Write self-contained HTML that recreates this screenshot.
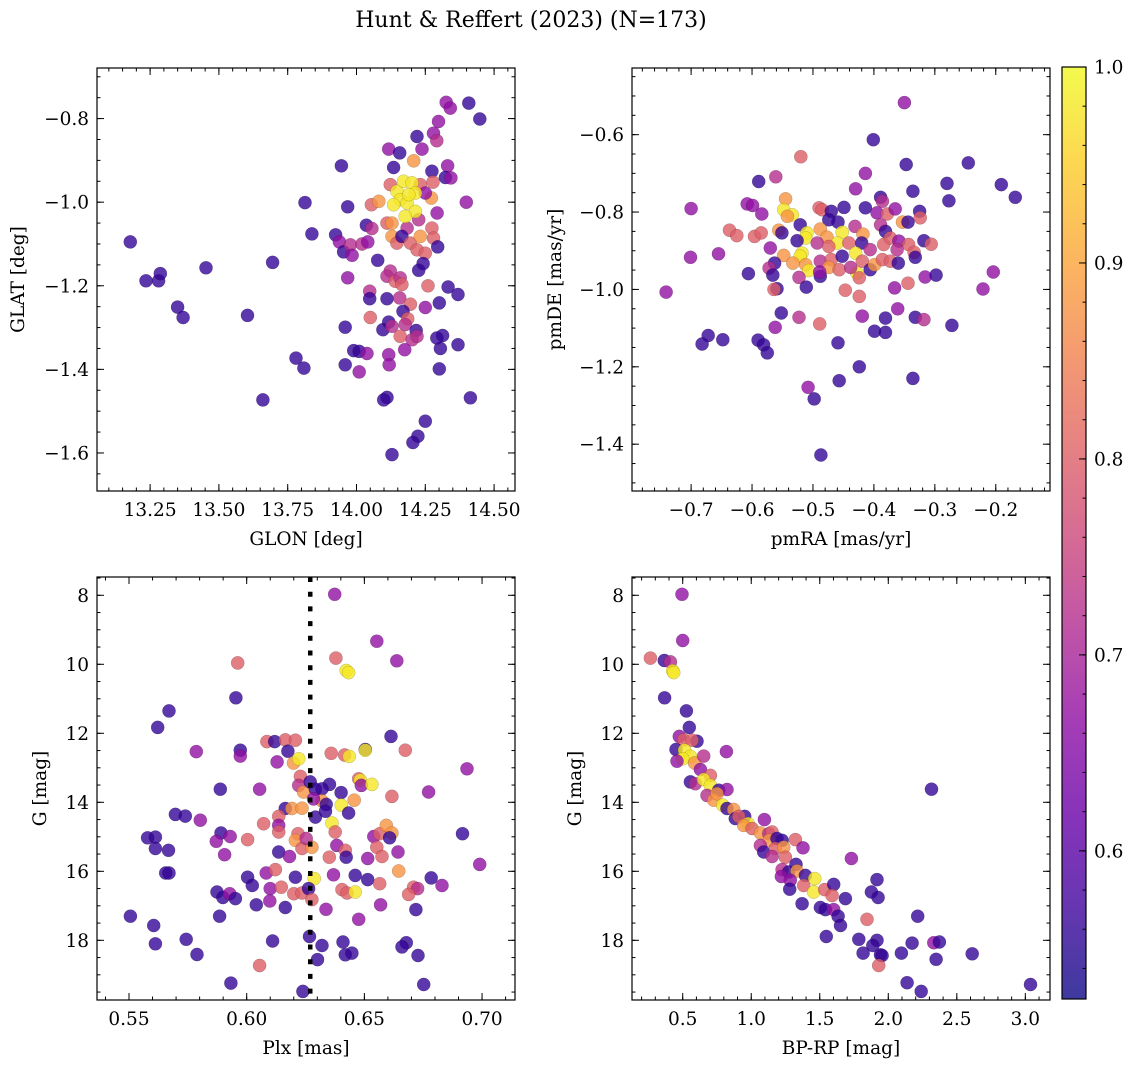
<!DOCTYPE html>
<html><head><meta charset="utf-8"><style>
html,body{margin:0;padding:0;background:#fff;}
svg{display:block;font-family:"DejaVu Serif","Liberation Serif",serif;}
</style></head><body>
<svg id="fig" width="1136" height="1067" viewBox="0 0 1136 1067" xmlns="http://www.w3.org/2000/svg">
<text x="531" y="27" text-anchor="middle" font-size="22">Hunt &amp; Reffert (2023) (N=173)</text>
</svg>
<script>
// ---------- data ----------
const p1Glon=[13.178,13.235,13.281,13.287,13.350,13.370,13.453,13.604,13.695,13.780,13.809,13.660,13.813,13.838,13.945,13.968,13.924,13.938,13.953,13.978,13.984,13.968,14.020,14.041,14.036,14.056,14.077,14.054,14.081,14.117,14.157,14.135,14.220,14.238,14.208,14.280,14.292,14.298,14.326,14.341,14.408,14.448,14.274,14.331,14.323,14.343,14.278,14.272,14.399,14.293,14.123,14.232,14.250,14.226,14.111,14.129,14.129,14.147,14.184,14.165,14.196,14.232,14.220,14.250,14.274,14.280,14.295,14.242,14.226,14.123,14.111,14.141,14.159,14.165,14.260,14.333,14.369,14.048,14.048,14.111,14.157,14.196,14.250,14.301,14.169,14.050,14.186,14.117,14.096,14.129,14.177,14.217,14.159,14.202,14.220,14.175,13.959,13.990,14.010,14.038,14.117,14.119,13.959,14.010,14.313,14.292,14.305,14.369,14.301,14.111,14.099,14.414,14.250,14.223,14.205,14.129,14.147,14.171,14.202,14.214,14.159,14.184,14.135,14.190,14.214,14.177];
const p1Glat=[-1.095,-1.188,-1.188,-1.171,-1.251,-1.276,-1.157,-1.271,-1.144,-1.373,-1.397,-1.473,-1.001,-1.076,-0.913,-1.011,-1.078,-1.095,-1.119,-1.102,-1.127,-1.181,-1.100,-1.095,-1.055,-1.063,-1.139,-1.006,-0.998,-0.873,-0.882,-0.917,-0.843,-0.873,-0.901,-0.835,-0.853,-0.807,-0.761,-0.775,-0.763,-0.801,-0.926,-0.913,-0.941,-0.942,-0.952,-0.990,-1.000,-1.026,-0.958,-0.958,-0.978,-1.042,-1.050,-1.050,-1.082,-1.098,-1.062,-1.082,-1.098,-1.082,-1.114,-1.122,-1.062,-1.086,-1.107,-1.147,-1.163,-1.165,-1.177,-1.189,-1.181,-1.197,-1.200,-1.203,-1.221,-1.213,-1.231,-1.231,-1.229,-1.244,-1.252,-1.241,-1.261,-1.276,-1.279,-1.287,-1.305,-1.297,-1.293,-1.307,-1.321,-1.329,-1.321,-1.353,-1.299,-1.355,-1.357,-1.362,-1.365,-1.389,-1.389,-1.406,-1.319,-1.325,-1.350,-1.341,-1.399,-1.467,-1.473,-1.468,-1.524,-1.560,-1.575,-1.604,-0.974,-0.950,-0.954,-0.978,-0.994,-1.002,-1.006,-0.982,-1.022,-1.034];
const p1Prob=[0.56,0.56,0.56,0.56,0.56,0.56,0.56,0.56,0.56,0.56,0.56,0.56,0.56,0.56,0.56,0.56,0.56,0.67,0.56,0.72,0.67,0.67,0.72,0.67,0.56,0.72,0.56,0.80,0.88,0.67,0.56,0.56,0.56,0.67,0.88,0.67,0.72,0.67,0.67,0.67,0.56,0.56,0.56,0.67,0.56,0.67,0.80,0.88,0.67,0.67,0.80,0.80,0.67,0.72,0.80,0.88,0.88,0.80,0.72,0.56,0.80,0.88,0.80,0.80,0.80,0.80,0.56,0.56,0.56,0.72,0.72,0.80,0.72,0.80,0.80,0.56,0.56,0.72,0.56,0.56,0.72,0.80,0.67,0.56,0.56,0.80,0.80,0.56,0.56,0.72,0.72,0.56,0.80,0.72,0.72,0.67,0.56,0.56,0.56,0.67,0.67,0.67,0.56,0.67,0.56,0.56,0.56,0.56,0.56,0.56,0.56,0.56,0.56,0.56,0.56,0.56,0.98,0.98,0.98,0.98,0.98,0.98,0.98,0.98,0.98,0.98];

const p2Pmra=[-0.350,-0.401,-0.347,-0.245,-0.520,-0.414,-0.430,-0.336,-0.280,-0.277,-0.191,-0.168,-0.589,-0.561,-0.700,-0.608,-0.599,-0.584,-0.545,-0.548,-0.534,-0.542,-0.521,-0.490,-0.485,-0.470,-0.474,-0.459,-0.449,-0.414,-0.389,-0.386,-0.395,-0.378,-0.365,-0.325,-0.324,-0.353,-0.344,-0.389,-0.381,-0.431,-0.637,-0.625,-0.596,-0.585,-0.556,-0.551,-0.510,-0.512,-0.488,-0.477,-0.452,-0.460,-0.526,-0.493,-0.474,-0.441,-0.418,-0.420,-0.406,-0.384,-0.373,-0.359,-0.343,-0.318,-0.306,-0.334,-0.332,-0.362,-0.570,-0.548,-0.518,-0.521,-0.533,-0.512,-0.507,-0.488,-0.470,-0.474,-0.457,-0.452,-0.430,-0.428,-0.438,-0.419,-0.406,-0.399,-0.386,-0.373,-0.360,-0.655,-0.701,-0.741,-0.563,-0.572,-0.566,-0.606,-0.523,-0.488,-0.489,-0.559,-0.564,-0.511,-0.447,-0.424,-0.424,-0.316,-0.298,-0.344,-0.366,-0.204,-0.221,-0.552,-0.562,-0.523,-0.489,-0.419,-0.381,-0.361,-0.332,-0.318,-0.272,-0.399,-0.381,-0.672,-0.682,-0.648,-0.590,-0.581,-0.575,-0.459,-0.424,-0.457,-0.336,-0.508,-0.498,-0.487];
const p2Pmde=[-0.517,-0.613,-0.677,-0.673,-0.657,-0.700,-0.740,-0.746,-0.726,-0.771,-0.729,-0.762,-0.721,-0.709,-0.791,-0.779,-0.783,-0.805,-0.766,-0.794,-0.807,-0.811,-0.833,-0.789,-0.794,-0.798,-0.820,-0.826,-0.788,-0.789,-0.762,-0.772,-0.802,-0.805,-0.792,-0.798,-0.815,-0.826,-0.826,-0.833,-0.850,-0.837,-0.847,-0.861,-0.863,-0.854,-0.847,-0.854,-0.854,-0.867,-0.844,-0.865,-0.852,-0.880,-0.874,-0.880,-0.889,-0.880,-0.857,-0.880,-0.897,-0.884,-0.867,-0.875,-0.884,-0.874,-0.883,-0.904,-0.917,-0.897,-0.893,-0.912,-0.906,-0.914,-0.932,-0.936,-0.951,-0.927,-0.923,-0.943,-0.949,-0.914,-0.906,-0.957,-0.943,-0.927,-0.949,-0.936,-0.923,-0.927,-0.932,-0.908,-0.917,-1.007,-0.932,-0.945,-0.963,-0.959,-0.969,-0.966,-0.955,-0.998,-1.000,-0.994,-1.002,-0.970,-1.018,-0.968,-0.963,-0.984,-0.996,-0.955,-0.999,-1.061,-1.098,-1.072,-1.089,-1.069,-1.074,-1.050,-1.072,-1.078,-1.093,-1.108,-1.111,-1.119,-1.141,-1.130,-1.131,-1.143,-1.164,-1.138,-1.200,-1.236,-1.230,-1.253,-1.283,-1.428];
const p2Prob=[0.67,0.56,0.56,0.56,0.80,0.67,0.67,0.56,0.56,0.56,0.56,0.56,0.56,0.72,0.67,0.67,0.67,0.67,0.88,0.98,0.98,0.88,0.56,0.80,0.80,0.56,0.56,0.56,0.56,0.56,0.56,0.72,0.67,0.80,0.67,0.56,0.80,0.88,0.56,0.72,0.56,0.72,0.80,0.80,0.80,0.80,0.88,0.56,0.98,0.98,0.88,0.88,0.98,0.98,0.56,0.72,0.80,0.80,0.88,0.56,0.72,0.80,0.80,0.67,0.80,0.56,0.80,0.80,0.56,0.72,0.67,0.88,0.98,0.98,0.88,0.88,0.98,0.72,0.80,0.88,0.80,0.56,0.98,0.98,0.72,0.80,0.56,0.88,0.80,0.80,0.56,0.67,0.67,0.67,0.56,0.72,0.56,0.56,0.72,0.56,0.67,0.56,0.80,0.56,0.80,0.80,0.80,0.67,0.56,0.80,0.67,0.67,0.67,0.56,0.67,0.72,0.80,0.67,0.56,0.67,0.56,0.72,0.56,0.56,0.56,0.56,0.56,0.56,0.56,0.56,0.56,0.56,0.56,0.56,0.56,0.67,0.56,0.56];

const p3Plx=[0.6374,0.6553,0.6379,0.6638,0.6423,0.6433,0.5962,0.5954,0.5670,0.5622,0.5786,0.5973,0.5973,0.6086,0.6119,0.6164,0.6207,0.6175,0.6129,0.6199,0.6221,0.6613,0.6674,0.6504,0.6504,0.6359,0.6416,0.6436,0.6936,0.5888,0.6055,0.6228,0.6221,0.6242,0.6270,0.6292,0.6352,0.6320,0.6401,0.6476,0.6483,0.6487,0.6532,0.6617,0.6773,0.6457,0.6402,0.6320,0.6284,0.6338,0.6433,0.6292,0.6335,0.6164,0.6192,0.6235,0.6136,0.6072,0.6136,0.6136,0.6362,0.6376,0.5697,0.5739,0.5803,0.5579,0.5612,0.5612,0.5668,0.5891,0.5871,0.5930,0.5906,0.6004,0.6136,0.6182,0.6218,0.6207,0.6235,0.6277,0.6253,0.6383,0.6419,0.6423,0.6351,0.6514,0.6540,0.6565,0.6593,0.6617,0.6607,0.6553,0.6575,0.6643,0.6917,0.6990,0.6646,0.5656,0.5670,0.6004,0.6024,0.6083,0.6122,0.6207,0.6287,0.6369,0.6461,0.6514,0.6565,0.6784,0.6830,0.6709,0.6726,0.6688,0.5874,0.5899,0.5928,0.5952,0.6100,0.6147,0.6200,0.6235,0.6263,0.6277,0.6405,0.6426,0.6461,0.6041,0.6098,0.6164,0.6337,0.6569,0.6719,0.5506,0.5605,0.5612,0.5885,0.6476,0.5743,0.5789,0.6110,0.6267,0.6320,0.6301,0.6409,0.6419,0.6447,0.6678,0.6660,0.6728,0.6055,0.5933,0.6239,0.6752];
const p3G=[7.97,9.33,9.82,9.90,10.18,10.24,9.96,10.97,11.35,11.83,12.53,12.49,12.66,12.24,12.24,12.19,12.20,12.52,12.83,12.86,12.74,12.09,12.49,12.47,12.49,12.58,12.63,12.67,13.03,13.62,13.62,13.25,13.51,13.70,13.41,13.62,13.48,13.61,13.72,13.32,13.36,13.51,13.48,13.83,13.70,13.94,14.08,13.96,13.90,14.06,14.31,14.43,14.26,14.18,14.18,14.17,14.41,14.62,14.67,14.86,14.60,14.86,14.35,14.40,14.52,15.03,15.01,15.34,15.39,14.89,15.13,14.99,15.52,15.08,15.44,15.57,14.91,15.10,15.34,15.30,15.05,15.25,15.39,15.59,15.59,15.63,14.99,14.91,14.67,14.89,15.03,15.30,15.57,15.44,14.91,15.80,15.99,16.05,16.05,16.17,16.41,16.05,15.95,16.17,16.21,16.10,16.12,16.24,16.36,16.19,16.41,16.46,16.50,16.67,16.60,16.76,16.65,16.79,16.50,16.46,16.65,16.63,16.50,16.82,16.53,16.63,16.60,16.97,16.86,17.05,17.10,16.97,17.11,17.30,17.57,18.10,17.30,17.39,17.97,18.41,18.02,17.89,18.15,18.56,18.05,18.42,18.37,18.07,18.19,18.44,18.73,19.24,19.48,19.28];
const p3Prob=[0.67,0.67,0.80,0.67,0.98,0.98,0.80,0.56,0.56,0.56,0.67,0.56,0.67,0.80,0.56,0.80,0.80,0.56,0.67,0.88,0.98,0.56,0.80,0.56,0.98,0.80,0.80,0.98,0.67,0.56,0.67,0.80,0.72,0.88,0.56,0.56,0.56,0.56,0.56,0.80,0.98,0.67,0.98,0.80,0.67,0.88,0.98,0.88,0.67,0.56,0.56,0.56,0.56,0.56,0.88,0.88,0.80,0.80,0.67,0.80,0.98,0.80,0.56,0.56,0.67,0.56,0.56,0.56,0.56,0.56,0.67,0.67,0.67,0.80,0.56,0.67,0.80,0.88,0.80,0.88,0.72,0.67,0.80,0.56,0.80,0.67,0.67,0.80,0.88,0.88,0.56,0.80,0.80,0.67,0.56,0.67,0.88,0.56,0.56,0.56,0.56,0.67,0.80,0.56,0.98,0.67,0.56,0.56,0.80,0.56,0.67,0.80,0.72,0.80,0.56,0.56,0.67,0.56,0.67,0.80,0.80,0.80,0.56,0.80,0.80,0.80,0.98,0.56,0.67,0.56,0.67,0.67,0.56,0.56,0.56,0.56,0.56,0.67,0.56,0.56,0.56,0.56,0.56,0.56,0.56,0.56,0.56,0.56,0.56,0.56,0.80,0.56,0.56,0.56];

const p4Bprp=[0.495,0.500,0.264,0.366,0.410,0.427,0.434,0.368,0.527,0.548,0.475,0.507,0.604,0.568,0.451,0.514,0.556,0.500,0.458,0.587,0.653,0.819,0.629,0.702,0.556,0.592,0.653,0.702,0.763,0.823,0.677,0.726,0.750,0.792,0.823,0.872,0.884,0.952,0.909,0.977,0.945,1.006,1.096,1.067,1.128,1.152,1.132,1.188,1.225,1.322,1.378,1.067,1.091,1.176,1.237,1.152,1.249,1.731,1.225,1.273,1.327,1.334,1.220,1.285,1.395,1.463,1.383,1.281,1.456,1.536,1.602,1.590,1.687,1.371,1.505,1.541,1.602,1.634,1.651,1.918,1.877,1.926,2.215,1.845,2.315,1.548,1.785,1.918,1.887,1.816,1.943,1.955,1.930,2.096,2.174,2.332,2.373,2.349,2.612,2.137,2.240,3.038];
const p4G=[7.97,9.31,9.82,9.89,9.93,10.19,10.24,10.97,11.35,11.83,12.09,12.19,12.23,12.20,12.47,12.49,12.67,12.74,12.81,12.86,12.66,12.53,13.05,13.22,13.41,13.46,13.34,13.51,13.65,13.63,13.80,13.94,13.75,14.08,14.18,14.21,14.47,14.41,14.41,14.62,14.67,14.76,14.50,14.89,14.91,14.86,15.10,15.05,15.10,15.08,15.32,15.25,15.44,15.34,15.30,15.57,15.59,15.63,15.95,16.02,15.80,15.99,16.15,16.26,16.12,16.21,16.41,16.52,16.60,16.53,16.38,16.70,16.79,16.94,17.05,17.11,17.11,17.30,17.57,16.24,16.60,16.76,17.30,17.39,13.62,17.89,17.97,18.00,18.15,18.37,18.42,18.44,18.73,18.37,18.08,18.07,18.05,18.55,18.39,19.23,19.48,19.28];
const p4Prob=[0.67,0.67,0.80,0.56,0.72,0.98,0.98,0.56,0.56,0.56,0.67,0.80,0.56,0.80,0.56,0.98,0.98,0.98,0.67,0.88,0.72,0.67,0.67,0.80,0.56,0.72,0.98,0.98,0.56,0.67,0.72,0.88,0.88,0.98,0.56,0.88,0.56,0.56,0.80,0.98,0.88,0.80,0.67,0.88,0.72,0.80,0.88,0.56,0.56,0.80,0.67,0.72,0.56,0.80,0.88,0.72,0.80,0.67,0.72,0.56,0.56,0.88,0.67,0.67,0.56,0.98,0.80,0.56,0.98,0.80,0.56,0.80,0.56,0.56,0.56,0.56,0.67,0.56,0.56,0.56,0.56,0.56,0.56,0.80,0.56,0.56,0.56,0.56,0.56,0.56,0.56,0.56,0.80,0.56,0.56,0.67,0.56,0.56,0.56,0.56,0.56,0.56];

const plxLine=[0.627];
const cbTicks=[0.6,0.7,0.8,0.9,1.0];
const cbRange=[0.5244,1.0];

// ---------- helpers ----------
const NS="http://www.w3.org/2000/svg";
const svg=document.getElementById('fig');
const FS=18.5;
function mk(tag,attrs,parent){const e=document.createElementNS(NS,tag);for(const k in attrs)e.setAttribute(k,attrs[k]);(parent||svg).appendChild(e);return e;}
const plasmaStops=["#0d0887","#41049d","#6a00a8","#8f0da4","#b12a90","#cc4778","#e16462","#f2844b","#fca636","#fcce25","#f0f921"];
function hex(h){return[parseInt(h.substr(1,2),16),parseInt(h.substr(3,2),16),parseInt(h.substr(5,2),16)];}
function plasma(t){t=Math.max(0,Math.min(1,t));const f=t*10,i=Math.min(9,Math.floor(f)),u=f-i;const a=hex(plasmaStops[i]),b=hex(plasmaStops[i+1]);return 'rgb('+a.map((v,k)=>Math.round(v+(b[k]-v)*u)).join(',')+')';}
function pcol(p){return plasma((p-cbRange[0])/(cbRange[1]-cbRange[0]));}
const fmt=(v,d)=>{const s=Math.abs(v).toFixed(d);return (v<-1e-9?'\u2212':'')+s;};

function panel(cfg){
  const g=mk('g',{});
  
  
  const {x0,y0,x1,y1}=cfg.box;
  const sx=v=>x0+(v-cfg.xlim[0])/(cfg.xlim[1]-cfg.xlim[0])*(x1-x0);
  const sy=v=>y0+(v-cfg.ylim[0])/(cfg.ylim[1]-cfg.ylim[0])*(y1-y0);
  const clip=mk('clipPath',{id:'c'+cfg.name},g);mk('rect',{x:x0,y:y0,width:x1-x0,height:y1-y0},clip);
  const pts=mk('g',{'clip-path':'url(#c'+cfg.name+')'},g);
  
  
  for(let i=0;i<cfg.xs.length;i++){
    const c=mk('circle',{cx:sx(cfg.xs[i]).toFixed(1),cy:sy(cfg.ys[i]).toFixed(1),r:6.6,fill:pcol(cfg.ps[i]),'fill-opacity':0.8,stroke:'rgba(0,0,0,0.25)','stroke-width':0.5},pts);
    
    
  }
  if(cfg.vline){for(const v of cfg.vline){const l=mk('line',{x1:sx(v),x2:sx(v),y1:y0,y2:y1,stroke:'#000','stroke-width':4.5,'stroke-dasharray':'5,9.7'},pts);
    
    }}
  mk('rect',{x:x0,y:y0,width:x1-x0,height:y1-y0,fill:'none',stroke:'#000','stroke-width':1.2},g);
  const tk=mk('g',{stroke:'#000','stroke-width':1},g);
  const lo=Math.min(...cfg.xlim),hi=Math.max(...cfg.xlim);
  for(let v=Math.ceil(lo/cfg.xminor-1e-6)*cfg.xminor;v<=hi+1e-9;v+=cfg.xminor){const X=sx(v);mk('line',{x1:X,x2:X,y1:y1,y2:y1-3.5},tk);mk('line',{x1:X,x2:X,y1:y0,y2:y0+3.5},tk);}
  const ylo=Math.min(...cfg.ylim),yhi=Math.max(...cfg.ylim);
  for(let v=Math.ceil(ylo/cfg.yminor-1e-6)*cfg.yminor;v<=yhi+1e-9;v+=cfg.yminor){const Y=sy(v);mk('line',{x1:x0,x2:x0+3.5,y1:Y,y2:Y},tk);mk('line',{x1:x1,x2:x1-3.5,y1:Y,y2:Y},tk);}
  for(const v of cfg.xticks){const X=sx(v);mk('line',{x1:X,x2:X,y1:y1,y2:y1-7},tk);mk('line',{x1:X,x2:X,y1:y0,y2:y0+7},tk);
    const t=mk('text',{x:X,y:y1+25,'text-anchor':'middle','font-size':FS},g);t.textContent=fmt(v,cfg.xd);
    }
  for(const v of cfg.yticks){const Y=sy(v);mk('line',{x1:x0,x2:x0+7,y1:Y,y2:Y},tk);mk('line',{x1:x1,x2:x1-7,y1:Y,y2:Y},tk);
    const t=mk('text',{x:x0-8,y:Y+6.5,'text-anchor':'end','font-size':FS},g);t.textContent=fmt(v,cfg.yd);
    }
  const xl=mk('text',{x:(x0+x1)/2,y:y1+54,'text-anchor':'middle','font-size':FS},g);xl.textContent=cfg.xlabel;
  
  const yl=mk('text',{x:0,y:0,'text-anchor':'middle','font-size':FS,transform:'translate('+(cfg.ylx)+','+((y0+y1)/2)+') rotate(-90)'},g);yl.textContent=cfg.ylabel;
  
}
function range(a,b,s){const r=[];for(let v=a;v<=b+1e-9;v+=s)r.push(+v.toFixed(4));return r;}

panel({name:'glon-glat-panel',box:{x0:97,y0:68,x1:515,y1:491},xlim:[13.057,14.576],ylim:[-0.679,-1.691],xs:p1Glon,ys:p1Glat,ps:p1Prob,
  xticks:range(13.25,14.5,0.25),xminor:0.05,xd:2,yticks:[-0.8,-1.0,-1.2,-1.4,-1.6],yminor:0.05,yd:1,xlabel:'GLON [deg]',ylabel:'GLAT [deg]',ylx:24});
panel({name:'proper-motion-panel',box:{x0:632,y0:68,x1:1050,y1:491},xlim:[-0.797,-0.111],ylim:[-0.4277,-1.521],xs:p2Pmra,ys:p2Pmde,ps:p2Prob,
  xticks:[-0.7,-0.6,-0.5,-0.4,-0.3,-0.2],xminor:0.02,xd:1,yticks:[-0.6,-0.8,-1.0,-1.2,-1.4],yminor:0.05,yd:1,xlabel:'pmRA [mas/yr]',ylabel:'pmDE [mas/yr]',ylx:561});
panel({name:'parallax-magnitude-panel',box:{x0:97,y0:577,x1:515,y1:1000},xlim:[0.5364,0.714],ylim:[7.47,19.73],xs:p3Plx,ys:p3G,ps:p3Prob,vline:plxLine,
  xticks:[0.55,0.60,0.65,0.70],xminor:0.01,xd:2,yticks:[8,10,12,14,16,18],yminor:0.5,yd:0,xlabel:'Plx [mas]',ylabel:'G [mag]',ylx:46});
panel({name:'color-magnitude-panel',box:{x0:632,y0:577,x1:1050,y1:1000},xlim:[0.130,3.18],ylim:[7.47,19.73],xs:p4Bprp,ys:p4G,ps:p4Prob,
  xticks:[0.5,1.0,1.5,2.0,2.5,3.0],xminor:0.1,xd:1,yticks:[8,10,12,14,16,18],yminor:0.5,yd:0,xlabel:'BP-RP [mag]',ylabel:'G [mag]',ylx:581});

// colorbar
(function(){
  const x0=1062,x1=1086,y0=67,y1=999;
  const cb=mk('g',{});
  
  
  const defs=mk('defs',{},cb);
  const lg=mk('linearGradient',{id:'cbg',x1:0,y1:1,x2:0,y2:0},defs);
  for(let i=0;i<=20;i++){mk('stop',{offset:(i/20),'stop-color':plasma(i/20)},lg);}
  mk('rect',{x:x0,y:y0,width:x1-x0,height:y1-y0,fill:'url(#cbg)','fill-opacity':0.8},cb);
  mk('rect',{x:x0,y:y0,width:x1-x0,height:y1-y0,fill:'none',stroke:'#000','stroke-width':1.2},cb);
  const sy=v=>y1-(v-cbRange[0])/(cbRange[1]-cbRange[0])*(y1-y0);
  for(let v=0.54;v<=1.0001;v+=0.02){const Y=sy(v);mk('line',{x1:x1,x2:x1-3.5,y1:Y,y2:Y,stroke:'#000'},cb);}
  for(const v of cbTicks){const Y=sy(v);mk('line',{x1:x1,x2:x1-7,y1:Y,y2:Y,stroke:'#000'},cb);
    const t=mk('text',{x:x1+8,y:Y+6.5,'font-size':FS},cb);t.textContent=v.toFixed(1);
    }
})();
</script>
</body></html>
